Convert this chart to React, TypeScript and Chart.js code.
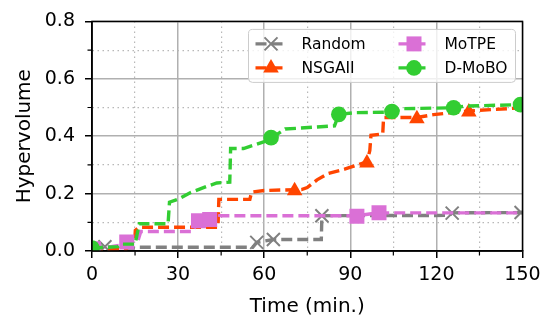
import React, { useEffect, useRef } from 'react';
import { Chart, registerables } from 'chart.js';
Chart.register(...registerables);

// ---- data ----
const seriesNames = ['Random', 'NSGAII', 'MoTPE', 'D-MoBO'];
const seriesColors = ['#808080', '#ff4500', '#da70d6', '#32cd32'];
const seriesMarkers = ['crossRot', 'triangle', 'rect', 'circle'];

const xMajorTicks = [0, 30, 60, 90, 120, 150];
const yMajorTicks = [0, 0.2, 0.4, 0.6, 0.8];

const randomX = [0, 4.5, 9, 15, 16.5, 56, 57.4, 63.2, 79.9, 80.1, 124.5, 125.5, 150];
const randomY = [0.012, 0.015, 0.01, 0.01, 0.013, 0.013, 0.03, 0.04, 0.04, 0.123, 0.124, 0.133, 0.134];
const randomMarkX = [4.5, 57.4, 63.2, 80.1, 125.5, 149.5];
const randomMarkY = [0.015, 0.03, 0.04, 0.123, 0.132, 0.134];

const nsgaX = [0, 12, 14.9, 15.1, 16.5, 43.9, 44.2, 55, 55.6, 60, 73, 75, 78.4, 82.4, 88, 95.8, 96.8, 97.2, 101.3, 101.6, 113.2, 119, 131.3, 150];
const nsgaY = [0.006, 0.008, 0.038, 0.072, 0.083, 0.083, 0.18, 0.18, 0.205, 0.211, 0.214, 0.221, 0.248, 0.27, 0.285, 0.311, 0.35, 0.403, 0.408, 0.465, 0.465, 0.475, 0.488, 0.499];
const nsgaMarkX = [70.6, 95.8, 113.2, 131.3];
const nsgaMarkY = [0.21, 0.307, 0.461, 0.484];

const motpeX = [0, 10, 12.1, 16, 17, 35, 37.1, 41, 44.3, 44.5, 92.3, 99.8, 150];
const motpeY = [0.006, 0.02, 0.031, 0.035, 0.068, 0.068, 0.105, 0.11, 0.11, 0.123, 0.123, 0.133, 0.133];
const motpeMarkX = [0.5, 12.1, 37.1, 41, 92.3, 100];
const motpeMarkY = [0.008, 0.031, 0.105, 0.11, 0.121, 0.133];

const dmoboX = [0, 9, 10, 15, 16.5, 26.5, 27, 30, 34.2, 40, 43.5, 48, 48.3, 52.8, 59.8, 62.4, 67.3, 84.5, 86, 91.6, 104.5, 108, 126, 130, 150];
const dmoboY = [0.01, 0.015, 0.024, 0.024, 0.095, 0.095, 0.17, 0.18, 0.203, 0.225, 0.237, 0.24, 0.357, 0.357, 0.38, 0.393, 0.425, 0.436, 0.476, 0.482, 0.484, 0.496, 0.499, 0.505, 0.51];
const dmoboMarkX = [0, 62.4, 86, 104.5, 126, 149.3];
const dmoboMarkY = [0.01, 0.395, 0.476, 0.486, 0.499, 0.51];

const lineXs = [randomX, nsgaX, motpeX, dmoboX];
const lineYs = [randomY, nsgaY, motpeY, dmoboY];
const markXs = [randomMarkX, nsgaMarkX, motpeMarkX, dmoboMarkX];
const markYs = [randomMarkY, nsgaMarkY, motpeMarkY, dmoboMarkY];

// ---- style ----
const FONT = 'DejaVu Sans';
const markerRadius: Record<string, number> = { crossRot: 9.2, triangle: 9, rect: 10.6, circle: 7.8 };
const dash = [11, 5];
const LINE_W = 3.4;

const zip = (xs: number[], ys: number[]) => xs.map((x, i) => ({ x, y: ys[i] }));
const isMajorX = (v: number) => xMajorTicks.some((t) => Math.abs(t - v) < 1e-6);
const isMajorY = (v: number) => yMajorTicks.some((t) => Math.abs(t - v) < 1e-6);

function drawMarker(ctx: CanvasRenderingContext2D, style: string, x: number, y: number, r: number, color: string) {
  ctx.save();
  ctx.fillStyle = color;
  ctx.strokeStyle = color;
  ctx.setLineDash([]);
  ctx.beginPath();
  if (style === 'circle') {
    ctx.arc(x, y, r, 0, Math.PI * 2);
    ctx.fill();
  } else if (style === 'rect') {
    const s = Math.SQRT1_2 * r;
    ctx.rect(x - s, y - s, 2 * s, 2 * s);
    ctx.fill();
  } else if (style === 'triangle') {
    const w = r * Math.sqrt(3) / 2;
    ctx.moveTo(x, y - r);
    ctx.lineTo(x + w, y + r / 2);
    ctx.lineTo(x - w, y + r / 2);
    ctx.closePath();
    ctx.fill();
  } else {
    const o = Math.SQRT1_2 * r;
    ctx.lineWidth = 2;
    ctx.moveTo(x - o, y - o);
    ctx.lineTo(x + o, y + o);
    ctx.moveTo(x - o, y + o);
    ctx.lineTo(x + o, y - o);
    ctx.stroke();
  }
  ctx.restore();
}

const framePlugin = {
  id: 'frame',
  afterDatasetsDraw(chart: any) {
    const { ctx, chartArea: a, scales } = chart;
    ctx.save();
    // minor ticks
    ctx.strokeStyle = '#000';
    ctx.lineWidth = 1.2;
    ctx.beginPath();
    for (let v = 15; v < 150; v += 30) {
      const px = scales.x.getPixelForValue(v);
      ctx.moveTo(px, a.bottom);
      ctx.lineTo(px, a.bottom + 4.5);
    }
    for (let i = 1; i < 8; i += 2) {
      const py = scales.y.getPixelForValue(i / 10);
      ctx.moveTo(a.left, py);
      ctx.lineTo(a.left - 4.5, py);
    }
    ctx.stroke();
    // spines
    ctx.lineWidth = 1.5;
    ctx.strokeRect(a.left, a.top, a.right - a.left, a.bottom - a.top);

    // legend
    const bw = 267, bh = 53;
    const bx = a.right - 7 - bw, by = a.top + 8;
    const r = 4;
    ctx.beginPath();
    ctx.moveTo(bx + r, by);
    ctx.arcTo(bx + bw, by, bx + bw, by + bh, r);
    ctx.arcTo(bx + bw, by + bh, bx, by + bh, r);
    ctx.arcTo(bx, by + bh, bx, by, r);
    ctx.arcTo(bx, by, bx + bw, by, r);
    ctx.closePath();
    ctx.fillStyle = 'rgba(255,255,255,0.8)';
    ctx.fill();
    ctx.strokeStyle = 'rgba(204,204,204,1)';
    ctx.lineWidth = 1;
    ctx.stroke();

    ctx.font = `15.5px "${FONT}"`;
    ctx.textBaseline = 'middle';
    ctx.textAlign = 'left';
    const colX = [bx + 7, bx + 150];
    const rowY = [by + 14.5, by + 38.5];
    for (let i = 0; i < seriesNames.length; i++) {
      const col = Math.floor(i / 2), row = i % 2;
      const hx = colX[col], hy = rowY[row];
      ctx.save();
      ctx.strokeStyle = seriesColors[i];
      ctx.lineWidth = LINE_W;
      ctx.setLineDash(dash);
      ctx.beginPath();
      ctx.moveTo(hx, hy);
      ctx.lineTo(hx + 31, hy);
      ctx.stroke();
      ctx.restore();
      drawMarker(ctx, seriesMarkers[i], hx + 15.5, hy, markerRadius[seriesMarkers[i]], seriesColors[i]);
      ctx.fillStyle = '#000';
      ctx.fillText(seriesNames[i], hx + 46, hy + 1);
    }
    ctx.restore();
  },
};

const bgPlugin = {
  id: 'bg',
  beforeDraw(chart: any) {
    const { ctx, width, height } = chart;
    ctx.save();
    ctx.fillStyle = '#fff';
    ctx.fillRect(0, 0, width, height);
    ctx.restore();
  },
};

export default function App() {
  const ref = useRef<HTMLCanvasElement>(null);
  useEffect(() => {
    if (!ref.current) return;
    const datasets: any[] = [];
    for (let i = 0; i < seriesNames.length; i++) {
      datasets.push({
        label: seriesNames[i],
        data: zip(lineXs[i], lineYs[i]),
        borderColor: seriesColors[i],
        backgroundColor: seriesColors[i],
        borderWidth: LINE_W,
        borderDash: dash,
        pointRadius: 0,
        showLine: true,
        fill: false,
        tension: 0,
        clip: 0,
        order: 2 * (seriesNames.length - i) + 1,
      });
      datasets.push({
        label: seriesNames[i] + ' markers',
        data: zip(markXs[i], markYs[i]),
        borderColor: seriesColors[i],
        backgroundColor: seriesColors[i],
        showLine: false,
        pointStyle: seriesMarkers[i],
        pointRadius: markerRadius[seriesMarkers[i]],
        pointBorderWidth: seriesMarkers[i] === 'crossRot' ? 2 : 0,
        clip: 0,
        order: 2 * (seriesNames.length - i),
      });
    }
    const chart = new Chart(ref.current, {
      type: 'scatter',
      data: { datasets },
      plugins: [bgPlugin, framePlugin],
      options: {
        animation: false,
        responsive: false,
        devicePixelRatio: 1,
        layout: { padding: { top: 16.5, right: 32.5, left: 0, bottom: 0 } },
        plugins: { legend: { display: false }, tooltip: { enabled: false } },
        scales: {
          x: {
            type: 'linear',
            min: 0,
            max: 150,
            afterFit: (s: any) => { s.height = 69; },
            ticks: {
              stepSize: 15,
              autoSkip: false,
              maxRotation: 0,
              padding: 6,
              color: '#000',
              font: { family: FONT, size: 19 },
              callback: (v: any) => (isMajorX(Number(v)) ? String(v) : ''),
            },
            grid: {
              color: (c: any) => (c.tick && isMajorX(c.tick.value) ? '#b0b0b0' : '#b8b8b8'),
              lineWidth: (c: any) => (c.tick && isMajorX(c.tick.value) ? 1.5 : 1.2),
              tickColor: (c: any) => (c.tick && isMajorX(c.tick.value) ? '#000' : 'rgba(0,0,0,0)'),
              tickLength: 7,
              tickWidth: 1.5,
            },
            border: {
              color: '#000',
              width: 1.5,
              dash: (c: any) => (c.tick && !isMajorX(c.tick.value) ? [1.5, 3.5] : []),
            },
            title: {
              display: true,
              text: 'Time (min.)',
              color: '#000',
              font: { family: FONT, size: 20 },
              padding: { top: 0, bottom: 1 },
            },
          },
          y: {
            type: 'linear',
            min: 0,
            max: 0.8,
            afterFit: (s: any) => { s.width = 92; },
            ticks: {
              stepSize: 0.1,
              autoSkip: false,
              padding: 10,
              color: '#000',
              font: { family: FONT, size: 19 },
              callback: (v: any) => (isMajorY(Number(v)) ? Number(v).toFixed(1) : ''),
            },
            grid: {
              color: (c: any) => (c.tick && isMajorY(c.tick.value) ? '#b0b0b0' : '#b8b8b8'),
              lineWidth: (c: any) => (c.tick && isMajorY(c.tick.value) ? 1.5 : 1.2),
              tickColor: (c: any) => (c.tick && isMajorY(c.tick.value) ? '#000' : 'rgba(0,0,0,0)'),
              tickLength: 7,
              tickWidth: 1.5,
            },
            border: {
              color: '#000',
              width: 1.5,
              dash: (c: any) => (c.tick && !isMajorY(c.tick.value) ? [1.5, 3.5] : []),
            },
            title: {
              display: true,
              text: 'Hypervolume',
              color: '#000',
              font: { family: FONT, size: 20 },
              padding: { top: 13, bottom: 0 },
            },
          },
        },
      } as any,
    });
    return () => chart.destroy();
  }, []);
  return (
    <div style={{ position: 'fixed', left: 0, top: 0, width: 555, height: 320, background: '#fff' }}>
      <canvas ref={ref} width={555} height={320} />
    </div>
  );
}
